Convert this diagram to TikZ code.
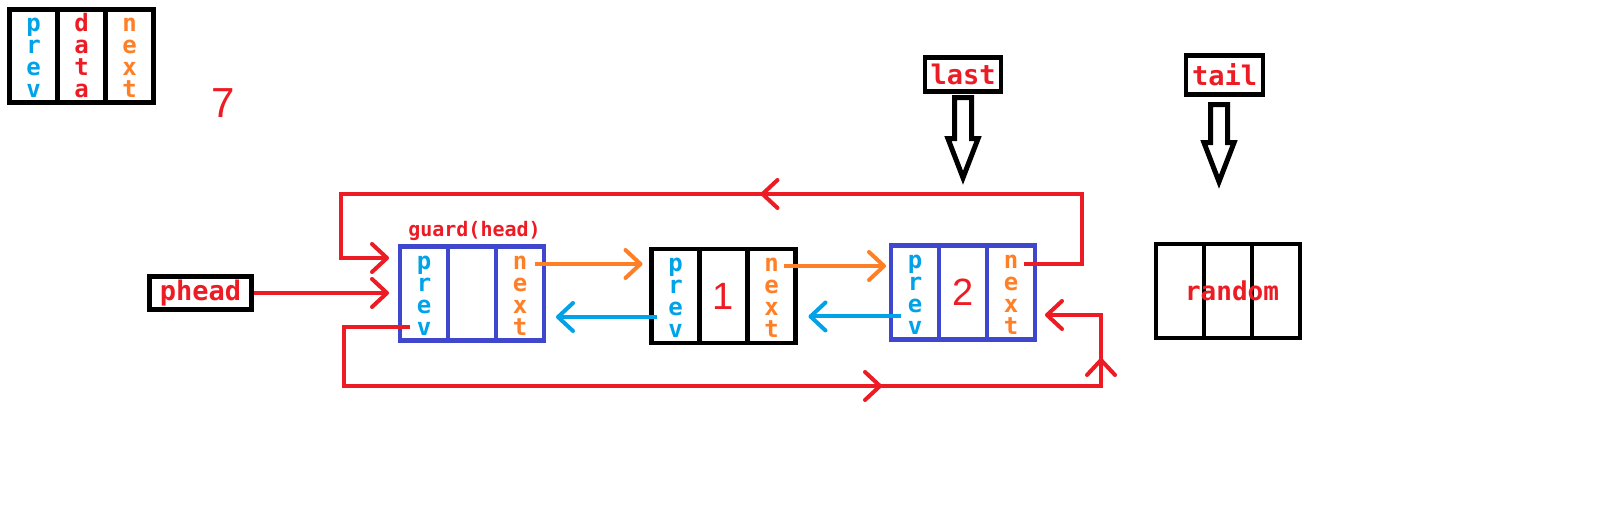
\documentclass[tikz,border=0pt]{standalone}
\usepackage{fontspec}
\setmainfont{DejaVu Sans}
\newfontfamily\labelfont{DejaVu Sans Mono}
\newfontfamily\numfont{Liberation Sans}
\usetikzlibrary{arrows.meta, positioning, decorations.markings}

\definecolor{pred}{RGB}{237,28,36}
\definecolor{porange}{RGB}{255,127,39}
\definecolor{pblue}{RGB}{0,162,232}
\definecolor{boxblue}{RGB}{63,72,204}

\tikzstyle{cell} = [rectangle, minimum width=48pt, minimum height=94pt, inner sep=0pt, outer sep=0pt, line width=4.5pt, draw=black, align=center, text height=84pt, text depth=0pt, font=\labelfont\bfseries\fontsize{24}{22}\selectfont]
\tikzstyle{bluecell} = [cell, draw=boxblue]
\tikzstyle{numcell} = [cell, text=pred, text height=27pt, font=\numfont\fontsize{38}{38}\selectfont]
\tikzstyle{ptrbox} = [rectangle, draw=black, line width=4.5pt, inner sep=0pt, minimum width=76pt, minimum height=34pt, text=pred, font=\labelfont\bfseries\fontsize{27}{27}\selectfont]
\tikzstyle{redlabel} = [inner sep=0pt, text=pred, font=\labelfont\bfseries\fontsize{27}{27}\selectfont]
\tikzstyle{redarrow} = [line width=4pt, color=pred, -{Straight Barb[length=15pt,width=28pt,round]}]
\tikzstyle{orangearrow} = [redarrow, color=porange]
\tikzstyle{bluearrow} = [redarrow, color=pblue]
\tikzstyle{hollowptr} = [line width=5pt, draw=black, fill=white, line join=miter]

\begin{document}
\begin{tikzpicture}[x=1pt, y=1pt]
\fill[white] (0,0) rectangle (1606,532);
\useasboundingbox (0,0) rectangle (1606,532);

% Legend
\node (legprev) [cell, line width=5pt, minimum height=93pt, text=pblue] at (33.5,476) {p\\r\\e\\v};
\node (legdata) [cell, line width=5pt, minimum height=93pt, text=pred, right=0pt of legprev] {d\\a\\t\\a};
\node (legnext) [cell, line width=5pt, minimum height=93pt, text=porange, right=0pt of legdata] {n\\e\\x\\t};
\node (count) [text=pred, font=\numfont\fontsize{42}{42}\selectfont] at (223,429) {7};

% Pointers
\node (phead) [ptrbox, minimum width=102pt, minimum height=33pt] at (200.5,239) {phead};
\node (last) [ptrbox] at (963,457.5) {last};
\node (tail) [ptrbox, minimum width=77pt, minimum height=39pt] at (1224.5,457) {tail};

% Nodes
\node (guardprev) [bluecell, text=pblue] at (424,238.5) {p\\r\\e\\v};
\node (guarddata) [bluecell, right=0pt of guardprev] {};
\node (guardnext) [bluecell, text=porange, right=0pt of guarddata] {n\\e\\x\\t};
\node (guardlbl) [text=pred, inner sep=0pt, font=\labelfont\bfseries\fontsize{20}{20}\selectfont] at (474.5,301) {guard(head)};

\node (node1prev) [cell, text=pblue] at (675.5,236) {p\\r\\e\\v};
\node (node1data) [numcell, right=0pt of node1prev] {1};
\node (node1next) [cell, text=porange, right=0pt of node1data] {n\\e\\x\\t};

\node (node2prev) [bluecell, text=pblue] at (915,239.5) {p\\r\\e\\v};
\node (node2data) [numcell, draw=boxblue, right=0pt of node2prev] {2};
\node (node2next) [bluecell, text=porange, right=0pt of node2data] {n\\e\\x\\t};

\node (rand1) [cell] at (1180,241) {};
\node (rand2) [cell, right=0pt of rand1] {};
\node (rand3) [cell, right=0pt of rand2] {};
\node (randlbl) [redlabel, font=\labelfont\bfseries\fontsize{26}{26}\selectfont] at (1232,241) {random};

% Hollow pointers
\draw [hollowptr] ([xshift=-8.5pt,yshift=-4pt]last.south) -- ++(0,-41) -- ++(-6.5,0) -- ++(15,-39) -- ++(15,39) -- ++(-6.5,0) -- ++(0,41) -- cycle;
\draw [hollowptr] ([xshift=-14pt,yshift=-8pt]tail.south) -- ++(0,-38) -- ++(-6.5,0) -- ++(15,-39) -- ++(15,39) -- ++(-6.5,0) -- ++(0,38) -- cycle;

% Corners of the loops
\coordinate (topR) at (1082,338);
\coordinate (topL) at (341,338);
\coordinate (botL) at (344,146);
\coordinate (botR) at (1101,146);
\coordinate (n2out) at ([xshift=13pt,yshift=28pt]node2next.center);
\coordinate (gout) at ([xshift=-14pt,yshift=-33.5pt]guardprev.center);
\coordinate (gnout) at ([xshift=15pt,yshift=29.5pt]guardnext.center);
\coordinate (n1out) at ([xshift=12pt,yshift=30pt]node1next.center);
\coordinate (n1back) at ([xshift=-19pt,yshift=-21pt]node1prev.center);
\coordinate (n2back) at ([xshift=-14pt,yshift=-24pt]node2prev.center);

% Arrows
\draw [redarrow, shorten >=11pt] (phead.east) -- (phead.east -| guardprev.west);
\draw [orangearrow, shorten >=9pt] (gnout) -- (gnout -| node1prev.west);
\draw [orangearrow, shorten >=5pt] (n1out) -- (n1out -| node2prev.west);
\draw [bluearrow, shorten >=12pt] (n1back) -- (n1back -| guardnext.east);
\draw [bluearrow, shorten >=13pt] (n2back) -- (n2back -| node1next.east);
\draw [redarrow, shorten >=11pt, postaction={decorate}, decoration={markings, mark=at position 450pt with {\arrow{Straight Barb[length=15pt,width=28pt,round]}}}]
  (n2out) -| (topR) -- (topL) |- ([yshift=35.5pt]guardprev.west);
\draw [redarrow, shorten >=10pt, postaction={decorate}, decoration={markings, mark=at position 663pt with {\arrow{Straight Barb[length=15pt,width=28pt,round]}}, mark=at position 910pt with {\arrow{Straight Barb[length=15pt,width=28pt,round]}}}]
  (gout) -| (botL) -- (botR) |- ([yshift=-22.5pt]node2next.east);

\end{tikzpicture}
\end{document}
